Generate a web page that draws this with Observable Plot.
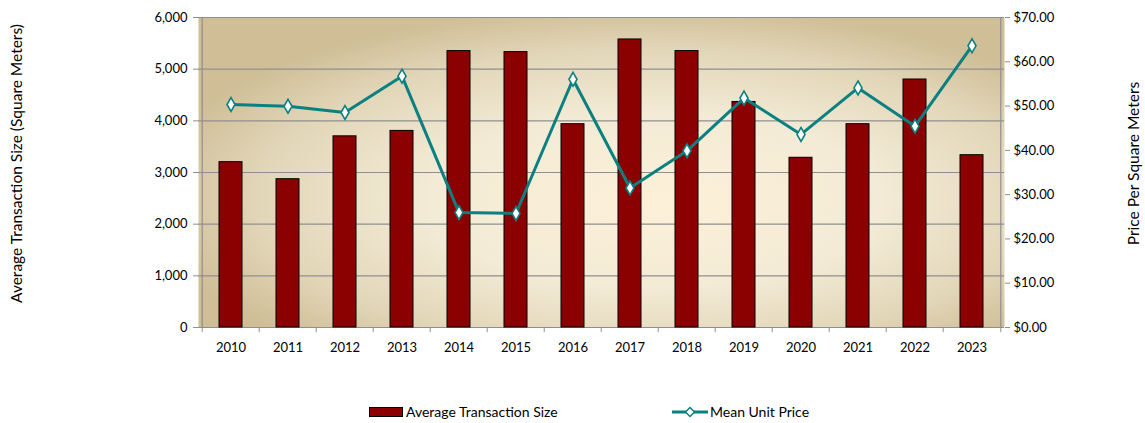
<!DOCTYPE html>
<html>
<head>
<meta charset="utf-8">
<script src="https://cdn.jsdelivr.net/npm/d3@7"></script>
<script src="https://cdn.jsdelivr.net/npm/@observablehq/plot@0.6"></script>
<style>
  html, body { margin: 0; padding: 0; background: #fff; }
  body { width: 1145px; height: 423px; overflow: hidden; font-family: Lato, "Open Sans", sans-serif; }
  #legend { position: relative; width: 1145px; height: 33px; font-size: 14px; color: #000; }
  #legend .item { position: absolute; top: 13px; display: flex; align-items: center; white-space: nowrap; }
</style>
</head>
<body>
<div id="chart"></div>
<div id="legend"></div>
<script>
const years = ["2010","2011","2012","2013","2014","2015","2016","2017","2018","2019","2020","2021","2022","2023"];
const avgSize = [3200, 2870, 3700, 3805, 5350, 5330, 3935, 5575, 5350, 4365, 3285, 3935, 4800, 3335];
const meanPrice = [50.35, 49.95, 48.55, 56.75, 25.95, 25.75, 56.05, 31.5, 39.9, 51.8, 43.6, 54.1, 45.45, 63.6];
const sizeTicks = [0, 1000, 2000, 3000, 4000, 5000, 6000];
const priceTicks = [0, 10, 20, 30, 40, 50, 60, 70];
const leftTitle = "Average Transaction Size (Square Meters)";
const rightTitle = "Price Per Square Meters";
const seriesNames = ["Average Transaction Size", "Mean Unit Price"];

const sizeMax = 6000, priceMax = 70;
const k = sizeMax / priceMax;
const data = years.map((y, i) => ({year: y, size: avgSize[i], price: meanPrice[i]}));

const W = 1145, H = 390, mL = 198, mR = 141, mT = 17, mB = 63;
const step = (W - mL - mR) / years.length;
const grid = "#8f8f8f";
const barColor = "#8b0000";
const lineColor = "#0a8080";

const chart = Plot.plot({
  width: W, height: H,
  marginLeft: mL, marginRight: mR, marginTop: mT, marginBottom: mB,
  style: {fontFamily: "Lato, 'Open Sans', sans-serif", fontSize: "13px", color: "#000", background: "transparent"},
  x: {type: "band", domain: years, paddingInner: 0.6, paddingOuter: 0.3, axis: null},
  y: {domain: [0, sizeMax], axis: null},
  marks: [
    Plot.frame({fill: "url(#bgGrad)", stroke: "none"}),
    Plot.ruleY(sizeTicks, {y: d => d, stroke: grid, strokeWidth: 1.2}),
    Plot.barY(data, {x: "year", y: "size", fill: barColor, stroke: "#000", strokeWidth: 1}),
    Plot.lineY(data, {x: "year", y: d => d.price * k, stroke: lineColor, strokeWidth: 3}),
    Plot.dot(data, {x: "year", y: d => d.price * k, symbol: "diamond", r: 4.2, fill: "white", stroke: lineColor, strokeWidth: 1.6}),
    Plot.ruleX([years[0]], {x: d => d, dx: -step / 2, y1: 0, y2: sizeMax, stroke: grid, strokeWidth: 1.2}),
    Plot.ruleX([years[years.length - 1]], {x: d => d, dx: step / 2, y1: 0, y2: sizeMax, stroke: grid, strokeWidth: 1.2}),
    Plot.ruleX(years, {x: d => d, dx: -step / 2, y1: 0, y2: -100, stroke: grid, strokeWidth: 1}),
    Plot.ruleX([years[years.length - 1]], {x: d => d, dx: step / 2, y1: 0, y2: -100, stroke: grid, strokeWidth: 1}),
    Plot.axisX({tickSize: 0, tickPadding: 15, fontSize: 13, fill: "#000", label: null}),
    Plot.axisY(sizeTicks, {anchor: "left", tickSize: 5, tickPadding: 6, stroke: grid, fill: "#000", fontSize: 13, tickFormat: d3.format(","), label: null}),
    Plot.axisY(priceTicks.map(p => p * k), {anchor: "right", tickSize: 5, tickPadding: 4, stroke: grid, fill: "#000", fontSize: 13, tickFormat: v => "$" + (v / k).toFixed(2), label: null}),
    Plot.text([leftTitle], {frameAnchor: "left", dx: -181, dy: -9, rotate: -90, fontSize: 15.5, fill: "#000", textAnchor: "middle", lineAnchor: "middle"}),
    Plot.text([rightTitle], {frameAnchor: "right", dx: 130, dy: -9, rotate: -90, fontSize: 15.5, fill: "#000", textAnchor: "middle", lineAnchor: "middle"})
  ]
});

const ns = "http://www.w3.org/2000/svg";
const defs = document.createElementNS(ns, "defs");
defs.innerHTML = `
  <radialGradient id="bgGrad" cx="0.55" cy="0.58" r="0.62" fx="0.58" fy="0.6">
    <stop offset="0" stop-color="#fdf0d8"/>
    <stop offset="0.45" stop-color="#f3ebd6"/>
    <stop offset="0.78" stop-color="#e2d6b8"/>
    <stop offset="1" stop-color="#cfbe96"/>
  </radialGradient>`;
chart.insertBefore(defs, chart.firstChild);
document.getElementById("chart").appendChild(chart);

// legend
const legend = document.getElementById("legend");
const item1 = document.createElement("div");
item1.className = "item";
item1.style.left = "369px";
item1.innerHTML = `<span style="display:inline-block;width:32px;height:8px;background:${barColor};border:1px solid #000;margin-right:3px"></span><span>${seriesNames[0]}</span>`;
legend.appendChild(item1);
const item2 = document.createElement("div");
item2.className = "item";
item2.style.left = "672px";
item2.innerHTML = `<svg width="36" height="12" style="margin-right:2px"><line x1="0" y1="6" x2="36" y2="6" stroke="${lineColor}" stroke-width="3"/><path d="M18,1.5 L22.5,6 L18,10.5 L13.5,6 Z" fill="white" stroke="${lineColor}" stroke-width="1.5"/></svg><span>${seriesNames[1]}</span>`;
legend.appendChild(item2);
</script>
</body>
</html>
